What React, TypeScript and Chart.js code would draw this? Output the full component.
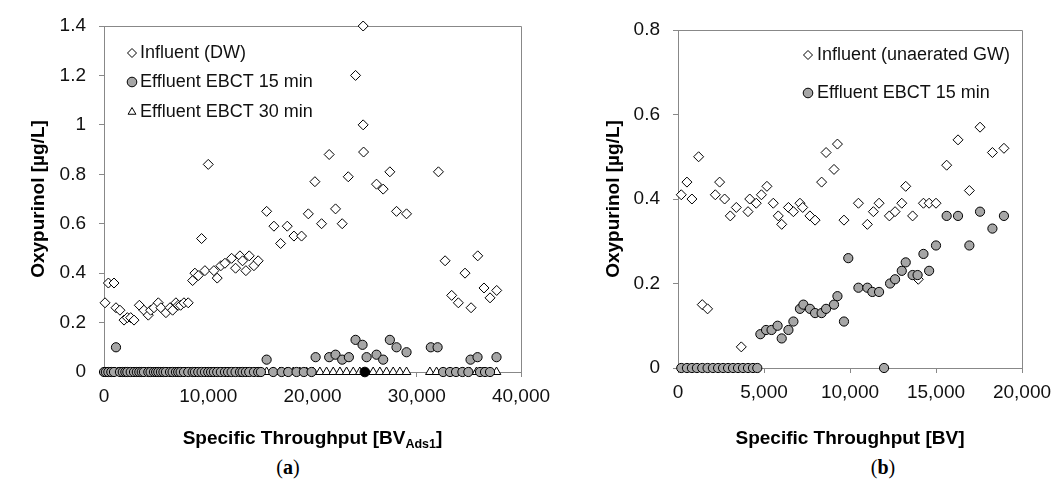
import React, { useEffect, useRef } from "react";
import { Chart, registerables } from "chart.js";

Chart.register(...registerables);

// ---------------- Panel (a): drinking water ----------------
const xTicksA = [0, 10000, 20000, 30000, 40000];
const yTicksA = [0, 0.2, 0.4, 0.6, 0.8, 1, 1.2, 1.4];

const infDwX = [
  100, 420, 960, 1150, 1530, 1920, 2240, 2560, 2880, 3390,
  3830, 4250, 4470, 4790, 5210, 5460, 5940, 6330, 6580, 6900,
  7120, 7350, 7670, 8080, 8500, 8720, 9040, 9360, 9680, 10000,
  10540, 10860, 11210, 11600, 12240, 12620, 13040, 13290, 13610, 13930,
  14380, 14790, 15600, 16300, 16940, 17580, 18220, 18950, 19600, 20230,
  20870, 21600, 22210, 22850, 23430, 24130, 24860, 24860, 24900, 26140,
  26780, 27420, 28060, 29020, 32080, 32720, 33350, 33990, 34630, 35210,
  35850, 36450, 37030, 37670,
];
const infDwY = [
  0.28, 0.36, 0.36, 0.26, 0.25, 0.21, 0.22, 0.22, 0.21, 0.27,
  0.25, 0.23, 0.25, 0.26, 0.28, 0.26, 0.24, 0.26, 0.25, 0.28,
  0.27, 0.27, 0.28, 0.28, 0.37, 0.40, 0.39, 0.54, 0.41, 0.84,
  0.41, 0.38, 0.43, 0.44, 0.46, 0.42, 0.47, 0.45, 0.41, 0.47,
  0.43, 0.45, 0.65, 0.59, 0.52, 0.59, 0.55, 0.55, 0.64, 0.77,
  0.60, 0.88, 0.66, 0.60, 0.79, 1.20, 1.40, 1.00, 0.89, 0.76,
  0.74, 0.81, 0.65, 0.64, 0.81, 0.45, 0.31, 0.28, 0.40, 0.26,
  0.47, 0.34, 0.30, 0.33,
];

const eff15aX = [
  0, 180, 420, 700, 960, 1150,
  1530, 1800, 2050, 2240, 2560, 2880, 3150, 3390, 3620, 3830,
  4250, 4470, 4790, 5000, 5210, 5460, 5700, 5940, 6330, 6580,
  6900, 7120, 7350, 7670, 8080, 8500, 8720, 9040, 9360, 9680,
  10000, 10270, 10540, 10860, 11210, 11600, 11900, 12240, 12620, 13040,
  13290, 13610, 13930, 14380, 14790, 15050,
  15600,
  16230, 17040, 17670, 18470, 19170, 19910,
  20300, 21600, 22210, 22850, 23490, 24130, 24800, 25190, 26140, 26780,
  27420, 28060, 29020, 31350, 32000,
  32530, 33190, 33770, 34380, 34950,
  35160, 35830,
  36070, 36550, 37030,
  37650,
];
const eff15aY = [
  0, 0, 0, 0, 0, 0.10,
  0, 0, 0, 0, 0, 0, 0, 0, 0, 0,
  0, 0, 0, 0, 0, 0, 0, 0, 0, 0,
  0, 0, 0, 0, 0, 0, 0, 0, 0, 0,
  0, 0, 0, 0, 0, 0, 0, 0, 0, 0,
  0, 0, 0, 0, 0, 0,
  0.05,
  0, 0, 0, 0, 0, 0,
  0.06, 0.06, 0.07, 0.05, 0.06, 0.13, 0.11, 0.06, 0.07, 0.05,
  0.13, 0.10, 0.08, 0.10, 0.10,
  0, 0, 0, 0, 0,
  0.05, 0.06,
  0, 0, 0,
  0.06,
];

const eff30aX = [
  90, 330, 560, 830, 1100, 1350, 1650, 1920, 2150, 2400,
  2700, 3000, 3270, 3500, 3720, 4000, 4360, 4620, 4900, 5100,
  5330, 5580, 5820, 6100, 6450, 6740, 7000, 7240, 7500, 7850,
  8280, 8600, 8880, 9200, 9520, 9850, 10150, 10400, 10700, 11030,
  11400, 11750, 12070, 12430, 12830, 13170, 13450, 13770, 14150, 14600,
  14920,
  15600, 16240, 16870, 17510, 18150, 18790, 19430, 20070, 20710, 21350,
  21990, 22630, 23270, 23910, 24540, 25820, 26460, 27100, 27740, 28380,
  29020,
  31260, 31900, 32530, 33170, 33810, 34450, 35090, 35730, 36370, 37010,
  37650,
];
const eff30aY = [
  0, 0, 0, 0, 0, 0, 0, 0, 0, 0,
  0, 0, 0, 0, 0, 0, 0, 0, 0, 0,
  0, 0, 0, 0, 0, 0, 0, 0, 0, 0,
  0, 0, 0, 0, 0, 0, 0, 0, 0, 0,
  0, 0, 0, 0, 0, 0, 0, 0, 0, 0,
  0,
  0, 0, 0, 0, 0, 0, 0, 0, 0, 0,
  0, 0, 0, 0, 0, 0, 0, 0, 0, 0,
  0,
  0, 0, 0, 0, 0, 0, 0, 0, 0, 0,
  0,
];

// overlapping dark marker on the zero line
const darkAX = [25020];
const darkAY = [0];

// ---------------- Panel (b): unaerated groundwater ----------------
const xTicksB = [0, 5000, 10000, 15000, 20000];
const yTicksB = [0, 0.2, 0.4, 0.6, 0.8];

const infGwX = [
  190, 520, 810, 1200, 1410, 1720, 2170, 2420, 2710, 3040,
  3390, 3680, 4070, 4170, 4550, 4850, 5170, 5540, 5830, 6030,
  6420, 6710, 7090, 7250, 7670, 7970, 8350, 8610, 9070, 9270,
  9650, 10490, 11010, 11360, 11690, 12290, 12620, 13010, 13240, 13640,
  13970, 14270, 14600, 15000, 15620, 16280, 16940, 17560, 18280, 18950,
];
const infGwY = [
  0.41, 0.44, 0.40, 0.50, 0.15, 0.14, 0.41, 0.44, 0.40, 0.36,
  0.38, 0.05, 0.37, 0.40, 0.39, 0.41, 0.43, 0.39, 0.36, 0.34,
  0.38, 0.37, 0.39, 0.38, 0.36, 0.35, 0.44, 0.51, 0.47, 0.53,
  0.35, 0.39, 0.34, 0.37, 0.39, 0.36, 0.37, 0.39, 0.43, 0.36,
  0.21, 0.39, 0.39, 0.39, 0.48, 0.54, 0.42, 0.57, 0.51, 0.52,
];

const eff15bX = [
  190, 520, 810, 1100, 1410, 1720, 2030, 2330, 2620, 2910,
  3200, 3490, 3780, 4070, 4360, 4610,
  4790, 5120, 5440, 5790, 6030, 6420, 6710, 7090, 7290, 7670,
  7970, 8350, 8610, 9070, 9270, 9650, 9900, 10490, 11010, 11300,
  11690, 11980,
  12330, 12620, 13010, 13240, 13640, 13930, 14270, 14600, 15000, 15620,
  16280, 16940, 17560, 18280, 18950,
];
const eff15bY = [
  0, 0, 0, 0, 0, 0, 0, 0, 0, 0,
  0, 0, 0, 0, 0, 0,
  0.08, 0.09, 0.09, 0.10, 0.07, 0.09, 0.11, 0.14, 0.15, 0.14,
  0.13, 0.13, 0.14, 0.15, 0.17, 0.11, 0.26, 0.19, 0.19, 0.18,
  0.18, 0,
  0.20, 0.21, 0.23, 0.25, 0.22, 0.22, 0.27, 0.23, 0.29, 0.36,
  0.36, 0.29, 0.37, 0.33, 0.36,
];

// ---------------- styling ----------------
const FONT = "'Liberation Sans', Arial, sans-serif";
const AXIS = "#888888";
const TEXT = "#111111";
const GRAY_FILL = "#a6a6a6";

Chart.defaults.font.family = FONT;
Chart.defaults.color = TEXT;

const pts = (xs: number[], ys: number[]) => xs.map((x, i) => ({ x, y: ys[i] }));

function drawMarker(ctx: CanvasRenderingContext2D, style: string, x: number, y: number, r: number, fill: string, stroke: string) {
  ctx.save();
  ctx.beginPath();
  if (style === "circle") {
    ctx.arc(x, y, r, 0, Math.PI * 2);
  } else if (style === "rectRot") {
    ctx.moveTo(x - r, y);
    ctx.lineTo(x, y - r);
    ctx.lineTo(x + r, y);
    ctx.lineTo(x, y + r);
    ctx.closePath();
  } else if (style === "triangle") {
    for (let k = 0; k < 3; k++) {
      const a = (k * 2 * Math.PI) / 3;
      const px = x + Math.sin(a) * r;
      const py = y - Math.cos(a) * r;
      if (k === 0) ctx.moveTo(px, py);
      else ctx.lineTo(px, py);
    }
    ctx.closePath();
  }
  ctx.fillStyle = fill;
  ctx.fill();
  ctx.lineWidth = 1;
  ctx.strokeStyle = stroke;
  ctx.stroke();
  ctx.restore();
}

const framePlugin = {
  id: "frame",
  beforeDatasetsDraw(chart: any) {
    const { ctx, chartArea } = chart;
    const l = Math.round(chartArea.left) + 0.5;
    const t = Math.round(chartArea.top) + 0.5;
    const r = Math.round(chartArea.right) + 0.5;
    const b = Math.round(chartArea.bottom) + 0.5;
    ctx.save();
    ctx.strokeStyle = AXIS;
    ctx.lineWidth = 1;
    ctx.beginPath();
    ctx.moveTo(l, t);
    ctx.lineTo(r, t);
    ctx.lineTo(r, b);
    ctx.stroke();
    ctx.restore();
  },
};

const insideLegendPlugin = {
  id: "insideLegend",
  afterDraw(chart: any, _args: any, opts: any) {
    if (!opts || !opts.rows) return;
    const ctx = chart.ctx;
    ctx.save();
    ctx.font = `${opts.fontSize}px ${FONT}`;
    ctx.fillStyle = TEXT;
    ctx.textBaseline = "middle";
    ctx.textAlign = "left";
    for (const row of opts.rows) {
      const ds = chart.data.datasets[row.dataset];
      drawMarker(ctx, ds.pointStyle, opts.markerX, row.y, row.r, ds.pointBackgroundColor, ds.pointBorderColor);
      ctx.fillStyle = TEXT;
      ctx.fillText(ds.label, opts.textX, row.y);
    }
    ctx.restore();
  },
};

const xTitlePlugin = {
  id: "xTitleSub",
  afterDraw(chart: any, _args: any, opts: any) {
    if (!opts || !opts.parts) return;
    const ctx = chart.ctx;
    const { chartArea } = chart;
    ctx.save();
    ctx.fillStyle = "#000";
    ctx.textBaseline = "alphabetic";
    ctx.textAlign = "left";
    const fontMain = `bold ${opts.size}px ${FONT}`;
    const fontSub = `bold ${opts.subSize}px ${FONT}`;
    let total = 0;
    const widths = opts.parts.map((p: any) => {
      ctx.font = p.sub ? fontSub : fontMain;
      const w = ctx.measureText(p.text).width;
      total += w;
      return w;
    });
    let x = (chartArea.left + chartArea.right) / 2 - total / 2;
    opts.parts.forEach((p: any, i: number) => {
      ctx.font = p.sub ? fontSub : fontMain;
      ctx.fillText(p.text, x, opts.y + (p.sub ? opts.subShift : 0));
      x += widths[i];
    });
    ctx.restore();
  },
};

function makeScales(o: any) {
  return {
    x: {
      type: "linear",
      min: o.xMin,
      max: o.xMax,
      afterBuildTicks: (s: any) => {
        s.ticks = o.xTicks.map((v: number) => ({ value: v }));
      },
      afterFit: (s: any) => {
        s.height = o.xHeight;
        s.paddingLeft = 0;
        s.paddingRight = 0;
      },
      grid: { display: true, drawOnChartArea: false, drawTicks: true, tickLength: 5, color: AXIS, lineWidth: 1 },
      border: { display: true, color: AXIS, width: 1 },
      ticks: {
        font: { size: 19 },
        color: TEXT,
        padding: 8,
        maxRotation: 0,
        autoSkip: false,
        callback: (v: any) => Number(v).toLocaleString("en-US"),
      },
      title: { display: false },
    },
    y: {
      type: "linear",
      min: o.yMin,
      max: o.yMax,
      afterBuildTicks: (s: any) => {
        s.ticks = o.yTicks.map((v: number) => ({ value: v }));
      },
      afterFit: (s: any) => {
        s.width = o.yWidth;
        s.paddingTop = 0;
        s.paddingBottom = 0;
      },
      grid: { display: true, drawOnChartArea: false, drawTicks: true, tickLength: 5, color: AXIS, lineWidth: 1 },
      border: { display: true, color: AXIS, width: 1 },
      ticks: {
        font: { size: 19 },
        color: TEXT,
        padding: 13,
        autoSkip: false,
        callback: (v: any) => String(v),
      },
      title: {
        display: true,
        text: "Oxypurinol [µg/L]",
        color: "#000",
        font: { size: 19, weight: "bold" },
        padding: { top: o.yTitlePad, bottom: 0 },
      },
    },
  };
}

function configA(): any {
  return {
    type: "scatter",
    data: {
      datasets: [
        {
          label: "Influent (DW)",
          data: pts(infDwX, infDwY),
          pointStyle: "rectRot",
          pointRadius: 5,
          pointBackgroundColor: "#ffffff",
          pointBorderColor: "#000000",
          pointBorderWidth: 1,
          order: 3,
          clip: false,
        },
        {
          label: "Effluent EBCT 15 min",
          data: pts(eff15aX, eff15aY),
          pointStyle: "circle",
          pointRadius: 4.6,
          pointBackgroundColor: GRAY_FILL,
          pointBorderColor: "#000000",
          pointBorderWidth: 1,
          order: 1,
          clip: false,
        },
        {
          label: "Effluent EBCT 30 min",
          data: pts(eff30aX, eff30aY),
          pointStyle: "triangle",
          pointRadius: 5,
          pointBackgroundColor: "#ffffff",
          pointBorderColor: "#000000",
          pointBorderWidth: 1,
          order: 2,
          clip: false,
        },
        {
          label: "",
          data: pts(darkAX, darkAY),
          pointStyle: "circle",
          pointRadius: 4.8,
          pointBackgroundColor: "#000000",
          pointBorderColor: "#000000",
          pointBorderWidth: 1,
          order: 0,
          clip: false,
        },
      ],
    },
    options: {
      animation: false,
      responsive: false,
      devicePixelRatio: 1,
      layout: { padding: { left: 0, top: 26, right: 39, bottom: 0 } },
      scales: makeScales({
        xMin: 0, xMax: 40000, xTicks: xTicksA, xHeight: 78,
        yMin: 0, yMax: 1.4, yTicks: yTicksA, yWidth: 104, yTitlePad: 27,
      }),
      plugins: {
        legend: { display: false },
        tooltip: { enabled: false },
        insideLegend: {
          fontSize: 18,
          markerX: 132,
          textX: 140,
          rows: [
            { dataset: 0, y: 53, r: 4.5 },
            { dataset: 1, y: 82, r: 4.8 },
            { dataset: 2, y: 112, r: 4.5 },
          ],
        },
        xTitleSub: {
          y: 443.5,
          size: 19,
          subSize: 12.5,
          subShift: 4,
          parts: [
            { text: "Specific Throughput [BV", sub: false },
            { text: "Ads1", sub: true },
            { text: "]", sub: false },
          ],
        },
      },
    },
    plugins: [framePlugin, insideLegendPlugin, xTitlePlugin],
  };
}

function configB(): any {
  return {
    type: "scatter",
    data: {
      datasets: [
        {
          label: "Influent (unaerated GW)",
          data: pts(infGwX, infGwY),
          pointStyle: "rectRot",
          pointRadius: 5,
          pointBackgroundColor: "#ffffff",
          pointBorderColor: "#000000",
          pointBorderWidth: 1,
          order: 2,
          clip: false,
        },
        {
          label: "Effluent EBCT 15 min",
          data: pts(eff15bX, eff15bY),
          pointStyle: "circle",
          pointRadius: 4.6,
          pointBackgroundColor: GRAY_FILL,
          pointBorderColor: "#000000",
          pointBorderWidth: 1,
          order: 1,
          clip: false,
        },
      ],
    },
    options: {
      animation: false,
      responsive: false,
      devicePixelRatio: 1,
      layout: { padding: { left: 0, top: 30, right: 30, bottom: 0 } },
      scales: makeScales({
        xMin: 0, xMax: 20000, xTicks: xTicksB, xHeight: 82,
        yMin: 0, yMax: 0.8, yTicks: yTicksB, yWidth: 148, yTitlePad: 72,
      }),
      plugins: {
        legend: { display: false },
        tooltip: { enabled: false },
        insideLegend: {
          fontSize: 18,
          markerX: 808,
          textX: 817,
          rows: [
            { dataset: 0, y: 55, r: 4.5 },
            { dataset: 1, y: 93, r: 4.8 },
          ],
        },
        xTitleSub: {
          y: 443.5,
          size: 19,
          subSize: 12.5,
          subShift: 4,
          parts: [{ text: "Specific Throughput [BV]", sub: false }],
        },
      },
    },
    plugins: [framePlugin, insideLegendPlugin, xTitlePlugin],
  };
}

function Panel({ make, left, width, height }: { make: () => any; left: number; width: number; height: number }) {
  const ref = useRef<HTMLCanvasElement | null>(null);
  useEffect(() => {
    if (!ref.current) return;
    const cfg = make();
    // legend coordinates are given in page space; convert to canvas space
    const leg = cfg.options.plugins.insideLegend;
    leg.markerX -= left;
    leg.textX -= left;
    const chart = new Chart(ref.current, cfg);
    return () => chart.destroy();
  }, []);
  return (
    <canvas
      ref={ref}
      width={width}
      height={height}
      style={{ position: "absolute", left, top: 0, width, height }}
    />
  );
}

export default function App() {
  const caption: React.CSSProperties = {
    position: "absolute",
    top: 455,
    height: 24,
    lineHeight: "24px",
    fontSize: 20,
    fontFamily: "'Liberation Serif', 'DejaVu Serif', serif",
    color: "#000",
    transform: "translateX(-50%)",
    whiteSpace: "nowrap",
  };
  return (
    <div
      style={{
        position: "absolute",
        left: 0,
        top: 0,
        width: 1052,
        height: 483,
        background: "#ffffff",
        overflow: "hidden",
      }}
    >
      <Panel make={configA} left={0} width={560} height={450} />
      <Panel make={configB} left={530} width={522} height={450} />
      <div style={{ ...caption, left: 288 }}>
        (<b>a</b>)
      </div>
      <div style={{ ...caption, left: 883 }}>
        (<b>b</b>)
      </div>
    </div>
  );
}
